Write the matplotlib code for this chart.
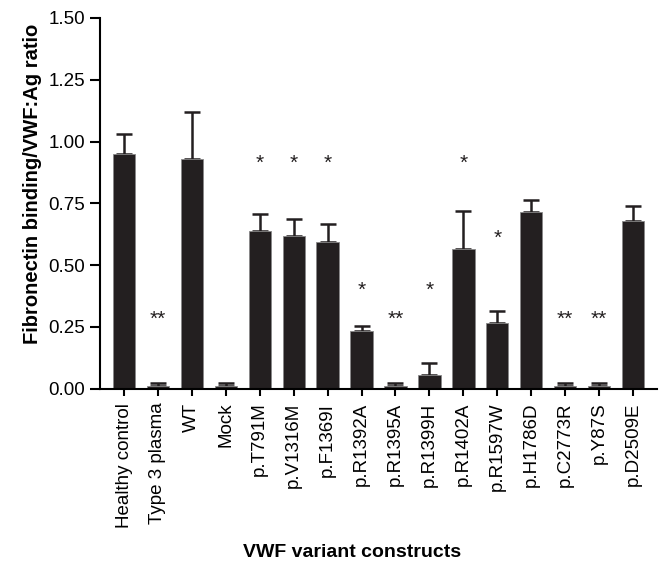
import matplotlib
matplotlib.use('Agg')
import matplotlib.pyplot as plt
import numpy as np

plt.rcParams['font.family'] = ['Liberation Sans', 'DejaVu Sans']

# Constructs and their mean ratio, upper error and significance marks
constructs = ['Healthy control', 'Type 3 plasma', 'WT', 'Mock', 'p.T791M', 'p.V1316M',
              'p.F1369I', 'p.R1392A', 'p.R1395A', 'p.R1399H', 'p.R1402A', 'p.R1597W',
              'p.H1786D', 'p.C2773R', 'p.Y87S', 'p.D2509E']
means = [0.95, 0.01, 0.93, 0.01, 0.64, 0.62, 0.595, 0.235, 0.01, 0.055, 0.565, 0.265,
         0.715, 0.01, 0.01, 0.68]
errors = [0.08, 0.012, 0.19, 0.015, 0.065, 0.065, 0.07, 0.02, 0.012, 0.05, 0.155, 0.05,
          0.05, 0.012, 0.012, 0.06]
stars = ['', '**', '', '', '*', '*', '*', '*', '**', '*', '*', '*', '', '**', '**', '']
star_y = [0, 0.28, 0, 0, 0.91, 0.91, 0.91, 0.40, 0.28, 0.40, 0.91, 0.61, 0, 0.28, 0.28, 0]

fig = plt.figure(figsize=(6.6, 5.61), dpi=100)
ax = fig.add_axes([0.152, 0.307, 0.843, 0.661])

x = np.arange(len(constructs))
ax.bar(x, means, width=0.66, color='#231f20', edgecolor='#888888', linewidth=0.6, zorder=2)
ax.errorbar(x, means, yerr=[np.zeros(len(means)), errors], fmt='none', ecolor='#231f20',
            elinewidth=1.8, capsize=5.5, capthick=1.8, zorder=1)

for xi, s, sy in zip(x, stars, star_y):
    if s:
        ax.text(xi, sy, s, ha='center', va='center', fontsize=15, color='#231f20')

ax.set_ylim(0, 1.5)
ax.set_yticks([0, 0.25, 0.5, 0.75, 1.0, 1.25, 1.5])
ax.set_yticklabels(['0.00', '0.25', '0.50', '0.75', '1.00', '1.25', '1.50'])
ax.set_xlim(-0.7, len(constructs) - 0.3)
ax.set_xticks(x)
ax.set_xticklabels(constructs, rotation=90)
ax.tick_params(axis='x', length=5, width=1.5, pad=5, labelsize=13.5)
ax.tick_params(axis='y', length=7, width=1.5, labelsize=13.5, pad=4)

for side in ['top', 'right']:
    ax.spines[side].set_visible(False)
for side in ['left', 'bottom']:
    ax.spines[side].set_linewidth(1.5)

ax.set_ylabel('Fibronectin binding/VWF:Ag ratio', fontsize=14.5, fontweight='bold')
ax.yaxis.set_label_coords(-0.104, 0.553)
ax.set_xlabel('VWF variant constructs', fontsize=14, fontweight='bold')
ax.xaxis.set_label_coords(0.533, 0.031, transform=fig.transFigure)

fig.savefig('out.png', dpi=100)
